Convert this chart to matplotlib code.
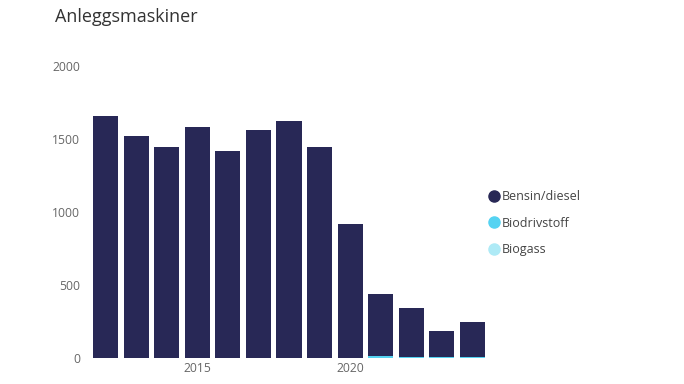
import matplotlib
matplotlib.use("Agg")
import matplotlib.pyplot as plt
from matplotlib.lines import Line2D

years = list(range(2012, 2025))
bensin_diesel = [1660, 1523, 1447, 1580, 1420, 1560, 1621, 1445, 915, 428, 332, 177, 235]
biodrivstoff = [0, 0, 0, 0, 0, 0, 0, 2, 3, 12, 10, 10, 10]
biogass = [0, 0, 0, 0, 0, 0, 0, 0, 0, 0, 0, 0, 0]
series_names = ["Bensin/diesel", "Biodrivstoff", "Biogass"]
colors = ["#282856", "#55d3f2", "#aeeaf6"]
title = "Anleggsmaskiner"
yticks = [0, 500, 1000, 1500, 2000]
xticks = [2015, 2020]

plt.rcParams['font.family'] = ['Open Sans', 'DejaVu Sans']

W, H = 684, 384
fig = plt.figure(figsize=(W / 100, H / 100), dpi=100)
left_px, right_px, bottom_px, top_px = 91, 487, 358, 66
ax = fig.add_axes([left_px / W, (H - bottom_px) / H, (right_px - left_px) / W, (bottom_px - top_px) / H])

width = 0.82
series = [bensin_diesel, biodrivstoff, biogass]
# stacking order: Biogass at bottom, then Biodrivstoff, then Bensin/diesel on top
bottoms = [0] * len(years)
for idx in [2, 1, 0]:
    vals = series[idx]
    ax.bar(years, vals, width=width, bottom=bottoms, color=colors[idx], label=series_names[idx], linewidth=0)
    bottoms = [b + v for b, v in zip(bottoms, vals)]

ax.set_xlim(2011.51, 2024.49)
ax.set_ylim(0, 2000)
ax.set_yticks(yticks)
ax.set_yticklabels([str(v) for v in yticks])
ax.set_xticks(xticks)
ax.set_xticklabels([str(v) for v in xticks])
for s in ax.spines.values():
    s.set_visible(False)
ax.tick_params(axis='both', length=0, labelsize=8.7, colors='#666666')
ax.tick_params(axis='y', pad=8)
ax.tick_params(axis='x', pad=3)

fig.text(55 / W, 1 - 17 / H, title, fontsize=13, color='#333333', va='center', ha='left')

handles = [Line2D([0], [0], marker='o', color='none', markerfacecolor=c, markeredgecolor=c, markersize=8)
           for c in colors]
leg = fig.legend(handles, series_names, loc='upper left', bbox_to_anchor=(489 / W, 1 - 190 / H),
                 frameon=False, fontsize=9, labelcolor='#444444', handlelength=0.8,
                 handletextpad=0.25, labelspacing=1.1, borderaxespad=0, borderpad=0)

fig.savefig("out.png", dpi=100)
